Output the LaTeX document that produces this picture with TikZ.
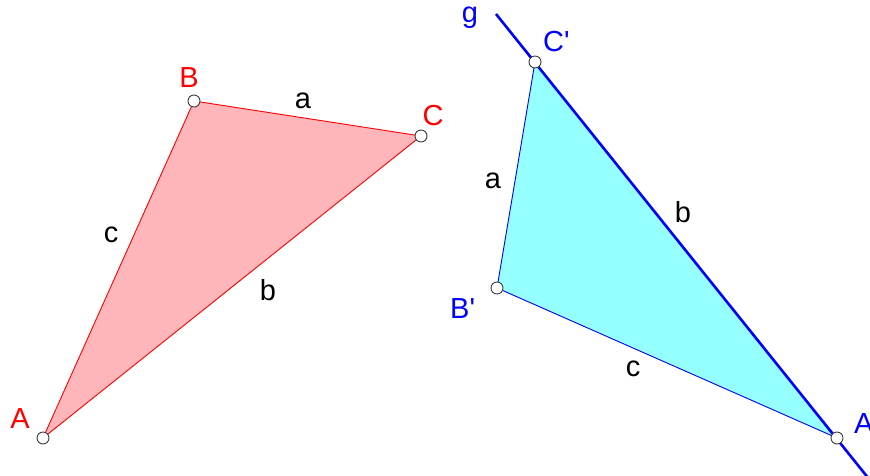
\documentclass[tikz,border=0pt]{standalone}
\usepackage{fontspec}
\setmainfont{Liberation Sans}
\definecolor{pinkfill}{RGB}{255,182,186}
\definecolor{cyanfill}{RGB}{150,255,255}
\definecolor{ptgray}{RGB}{60,60,60}
\tikzset{
  pt/.style={circle,draw=ptgray,fill=white,line width=0.9pt,minimum size=12pt,inner sep=0pt},
  lbl/.style={font=\fontsize{29}{32}\selectfont,inner sep=0pt},
  redlbl/.style={lbl,text=red},
  bluelbl/.style={lbl,text=blue},
  redside/.style={draw=red,line width=0.9pt},
  blueside/.style={draw=blue,line width=0.9pt},
}
\begin{document}
\begin{tikzpicture}[x=1pt,y=-1pt]
\useasboundingbox (0,0) rectangle (870,476);
% coordinates
\coordinate (A) at (43,438);
\coordinate (B) at (194,101);
\coordinate (C) at (421,136);
\coordinate (Cp) at (535,62);
\coordinate (Bp) at (497,288);
\coordinate (Ap) at (837,438);
\coordinate (g1) at (496,14);
\coordinate (g2) at (869,479);
% fills
\fill[pinkfill] (A) -- (B) -- (C) -- cycle;
\fill[cyanfill] (Ap) -- (Bp) -- (Cp) -- cycle;
% edges
\draw[redside] (A) -- (B) -- (C) -- cycle;
\draw[blueside] (Cp) -- (Bp) -- (Ap);
\draw[blue,line width=2.6pt] (g1) -- (g2);
% points
\node[pt] (nA) at (A) {};
\node[pt] (nB) at (B) {};
\node[pt] (nC) at (C) {};
\node[pt] (nCp) at (Cp) {};
\node[pt] (nBp) at (Bp) {};
\node[pt] (nAp) at (Ap) {};
% labels
\node[redlbl] (lA) at (20,419) {A};
\node[redlbl] (lB) at (189,78) {B};
\node[redlbl] (lC) at (433,116) {C};
\node[lbl] (la) at (303,101) {a};
\node[lbl] (lc) at (111,235) {c};
\node[lbl] (lb) at (268,290) {b};
\node[bluelbl] (lg) at (470,18) {g};
\node[bluelbl,anchor=west] (lCp) at (543,42) {C\textquotesingle};
\node[bluelbl,anchor=west] (lBp) at (450,309) {B\textquotesingle};
\node[bluelbl,anchor=west] (lAp) at (854,424) {A\textquotesingle};
\node[lbl] (la2) at (493,181) {a};
\node[lbl] (lb2) at (683,212) {b};
\node[lbl] (lc2) at (633,369) {c};
\end{tikzpicture}
\end{document}
